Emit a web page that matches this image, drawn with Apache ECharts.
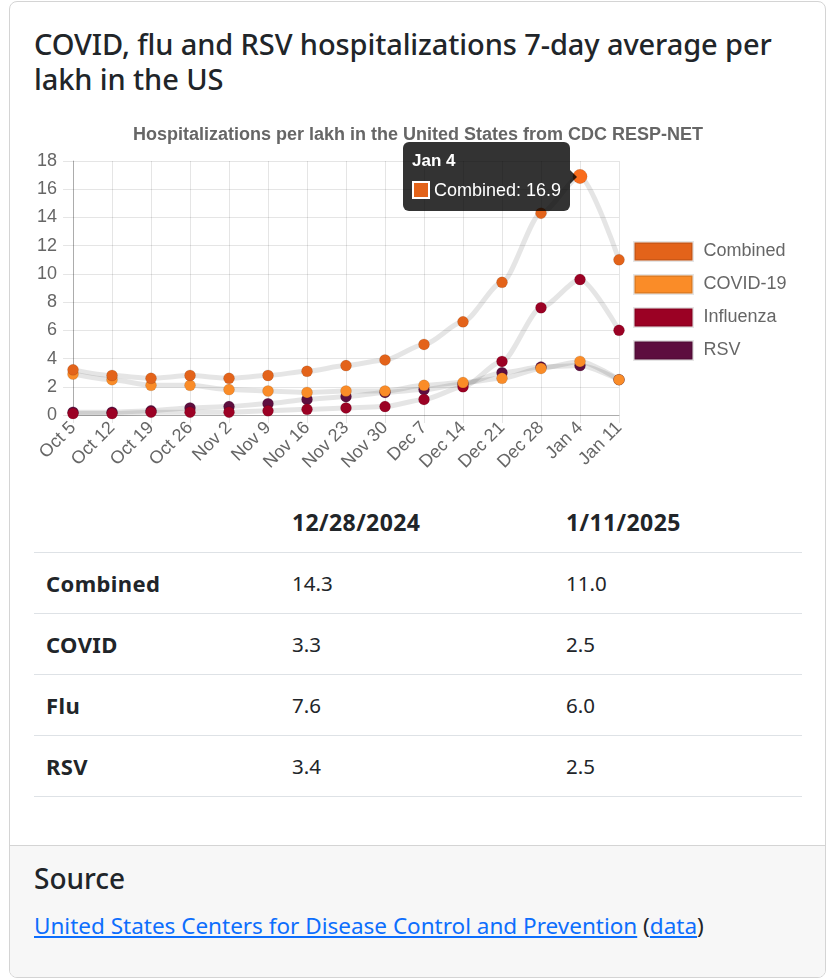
<!DOCTYPE html>
<html>
<head>
<meta charset="utf-8">
<script src="https://cdn.jsdelivr.net/npm/echarts@6/dist/echarts.min.js"></script>
<style>
  html, body { margin: 0; padding: 0; background: #fff; }
  body { padding: 1px 11px 0 9px; font-family: "Noto Sans", sans-serif; color: #212529; }
  .card { border: 1px solid #d4d4d4; border-radius: 8px; overflow: hidden; }
  .card-body { padding: 24px 24px 48px 24px; }
  h2 { margin: 0; font-size: 29px; font-weight: 500; line-height: 35px; letter-spacing: -0.1px; }
  #chart { width: 768px; height: 376px; margin-top: 20px; }
  table { width: 768px; border-collapse: collapse; font-size: 20.5px; }
  th, td { padding: 18px 12px; line-height: 24px; text-align: left; border-bottom: 1px solid #dee2e6; }
  th { font-weight: 700; font-size: 23px; letter-spacing: 0.4px; }
  td:first-child { font-weight: 700; font-size: 22px; letter-spacing: 0.4px; }
  .footer { background: #f7f7f7; border-top: 1px solid #d4d4d4; padding: 16px 24px 36px 24px; }
  .footer h3 { margin: 0 0 16px 0; font-size: 28px; font-weight: 500; line-height: 32px; }
  .footer span { font-size: 22.5px; }
  .footer a { color: #0d6efd; }
</style>
</head>
<body>
<div class="card">
  <div class="card-body">
    <h2>COVID, flu and RSV hospitalizations 7-day average per lakh in the US</h2>
    <div id="chart"></div>
    <table>
      <thead>
        <tr><th style="width:222px"></th><th style="width:250px">12/28/2024</th><th>1/11/2025</th></tr>
      </thead>
      <tbody id="tbody"></tbody>
    </table>
  </div>
  <div class="footer">
    <h3>Source</h3>
    <span><a href="#">United States Centers for Disease Control and Prevention</a> (<a href="#">data</a>)</span>
  </div>
</div>
<script>
  // 周次
  const weeks = ['Oct 5', 'Oct 12', 'Oct 19', 'Oct 26', 'Nov 2', 'Nov 9', 'Nov 16', 'Nov 23',
    'Nov 30', 'Dec 7', 'Dec 14', 'Dec 21', 'Dec 28', 'Jan 4', 'Jan 11']
  const combined = [3.2, 2.8, 2.6, 2.8, 2.6, 2.8, 3.1, 3.5, 3.9, 5.0, 6.6, 9.4, 14.3, 16.9, 11.0]
  const covid = [2.9, 2.5, 2.1, 2.1, 1.8, 1.7, 1.6, 1.7, 1.7, 2.1, 2.3, 2.6, 3.3, 3.8, 2.5]
  const influenza = [0.1, 0.1, 0.2, 0.2, 0.2, 0.3, 0.4, 0.5, 0.6, 1.1, 2.0, 3.8, 7.6, 9.6, 6.0]
  const rsv = [0.2, 0.2, 0.3, 0.5, 0.6, 0.8, 1.1, 1.3, 1.6, 1.8, 2.2, 3.0, 3.4, 3.5, 2.5]

  // table
  const tableRows = ['Combined', 'COVID', 'Flu', 'RSV']
  const tableCol1 = ['14.3', '3.3', '7.6', '3.4']
  const tableCol2 = ['11.0', '2.5', '6.0', '2.5']

  const seriesDef = [
    {name: 'Combined', data: combined, color: '#e3631a'},
    {name: 'COVID-19', data: covid, color: '#fa8c28'},
    {name: 'Influenza', data: influenza, color: '#9b0124'},
    {name: 'RSV', data: rsv, color: '#5d0e3f'}
  ]

  let tbody = document.getElementById('tbody')
  tableRows.forEach((r, i) => {
    let tr = document.createElement('tr')
    tr.innerHTML = `<td>${r}</td><td>${tableCol1[i]}</td><td>${tableCol2[i]}</td>`
    tbody.appendChild(tr)
  })

  const FONT = '"Liberation Sans", Arial, sans-serif'
  const GRID = 'rgba(0,0,0,0.1)'
  const TIP_BG = 'rgba(0,0,0,0.8)'
  let chart = echarts.init(document.getElementById('chart'))
  let option = {
    animation: false,
    textStyle: {fontFamily: FONT},
    title: {
      text: 'Hospitalizations per lakh in the United States from CDC RESP-NET',
      left: 'center', top: 5,
      textStyle: {fontFamily: FONT, fontSize: 18, fontWeight: 'bold', color: '#666'}
    },
    legend: {
      orient: 'vertical', left: 594, top: 120,
      itemWidth: 58, itemHeight: 18, itemGap: 12,
      icon: 'rect',
      itemStyle: {borderColor: 'rgba(0,0,0,0.1)', borderWidth: 3},
      textStyle: {fontFamily: FONT, fontSize: 18, color: '#666', padding: [0, 0, 0, 6]},
      data: seriesDef.map(s => s.name)
    },
    tooltip: {
      trigger: 'item',
      // 左侧显示,箭头指向数据点
      position: (point, params, dom, rect, size) =>
        [point[0] - size.contentSize[0] - 10, point[1] - size.contentSize[1] / 2],
      backgroundColor: TIP_BG,
      borderWidth: 0,
      padding: [9, 9, 11, 9],
      extraCssText: 'border-radius:6px;box-shadow:none;',
      textStyle: {color: '#fff', fontFamily: FONT, fontSize: 18},
      formatter: p => `<div style="font-weight:bold;font-size:17px;line-height:20px;margin-bottom:9px">${p.name}</div>` +
        `<div style="line-height:20px"><span style="display:inline-block;width:14px;height:14px;background:${p.color};border:2px solid #fff;vertical-align:-3px;margin-right:4px"></span>${p.seriesName}: ${p.value}</div>` +
        `<span style="position:absolute;right:-7px;top:50%;margin-top:-7px;width:0;height:0;border-top:7px solid transparent;border-bottom:7px solid transparent;border-left:7px solid ${TIP_BG}"></span>`
    },
    grid: {left: 39, right: 183, top: 45, bottom: 77},
    xAxis: {
      type: 'category',
      boundaryGap: false,
      data: weeks,
      axisLine: {lineStyle: {color: 'rgba(0,0,0,0.25)'}},
      axisTick: {show: true, length: 8, lineStyle: {color: GRID}},
      splitLine: {show: true, lineStyle: {color: GRID}},
      axisLabel: {rotate: 45, fontSize: 18, color: '#666', margin: 10, interval: 0}
    },
    yAxis: {
      type: 'value',
      min: 0, max: 18, interval: 2,
      axisLine: {show: true, lineStyle: {color: 'rgba(0,0,0,0.25)'}},
      axisTick: {show: true, length: 10, lineStyle: {color: GRID}},
      splitLine: {show: true, lineStyle: {color: GRID}},
      axisLabel: {fontSize: 18, color: '#666', margin: 16}
    },
    series: seriesDef.map((s, i) => ({
      name: s.name,
      type: 'line',
      data: s.data,
      smooth: 0.25,
      smoothMonotone: 'x',
      z: 10 - i,
      symbol: 'circle',
      symbolSize: 11,
      color: s.color,
      lineStyle: {color: 'rgba(0,0,0,0.1)', width: 5},
      itemStyle: {color: s.color, borderColor: 'rgba(0,0,0,0.1)', borderWidth: 1},
      emphasis: {scale: 1.3, focus: 'none'}
    }))
  }
  chart.setOption(option)
  chart.dispatchAction({type: 'highlight', seriesIndex: 0, dataIndex: 13})
  chart.dispatchAction({type: 'showTip', seriesIndex: 0, dataIndex: 13})
</script>
</body>
</html>
